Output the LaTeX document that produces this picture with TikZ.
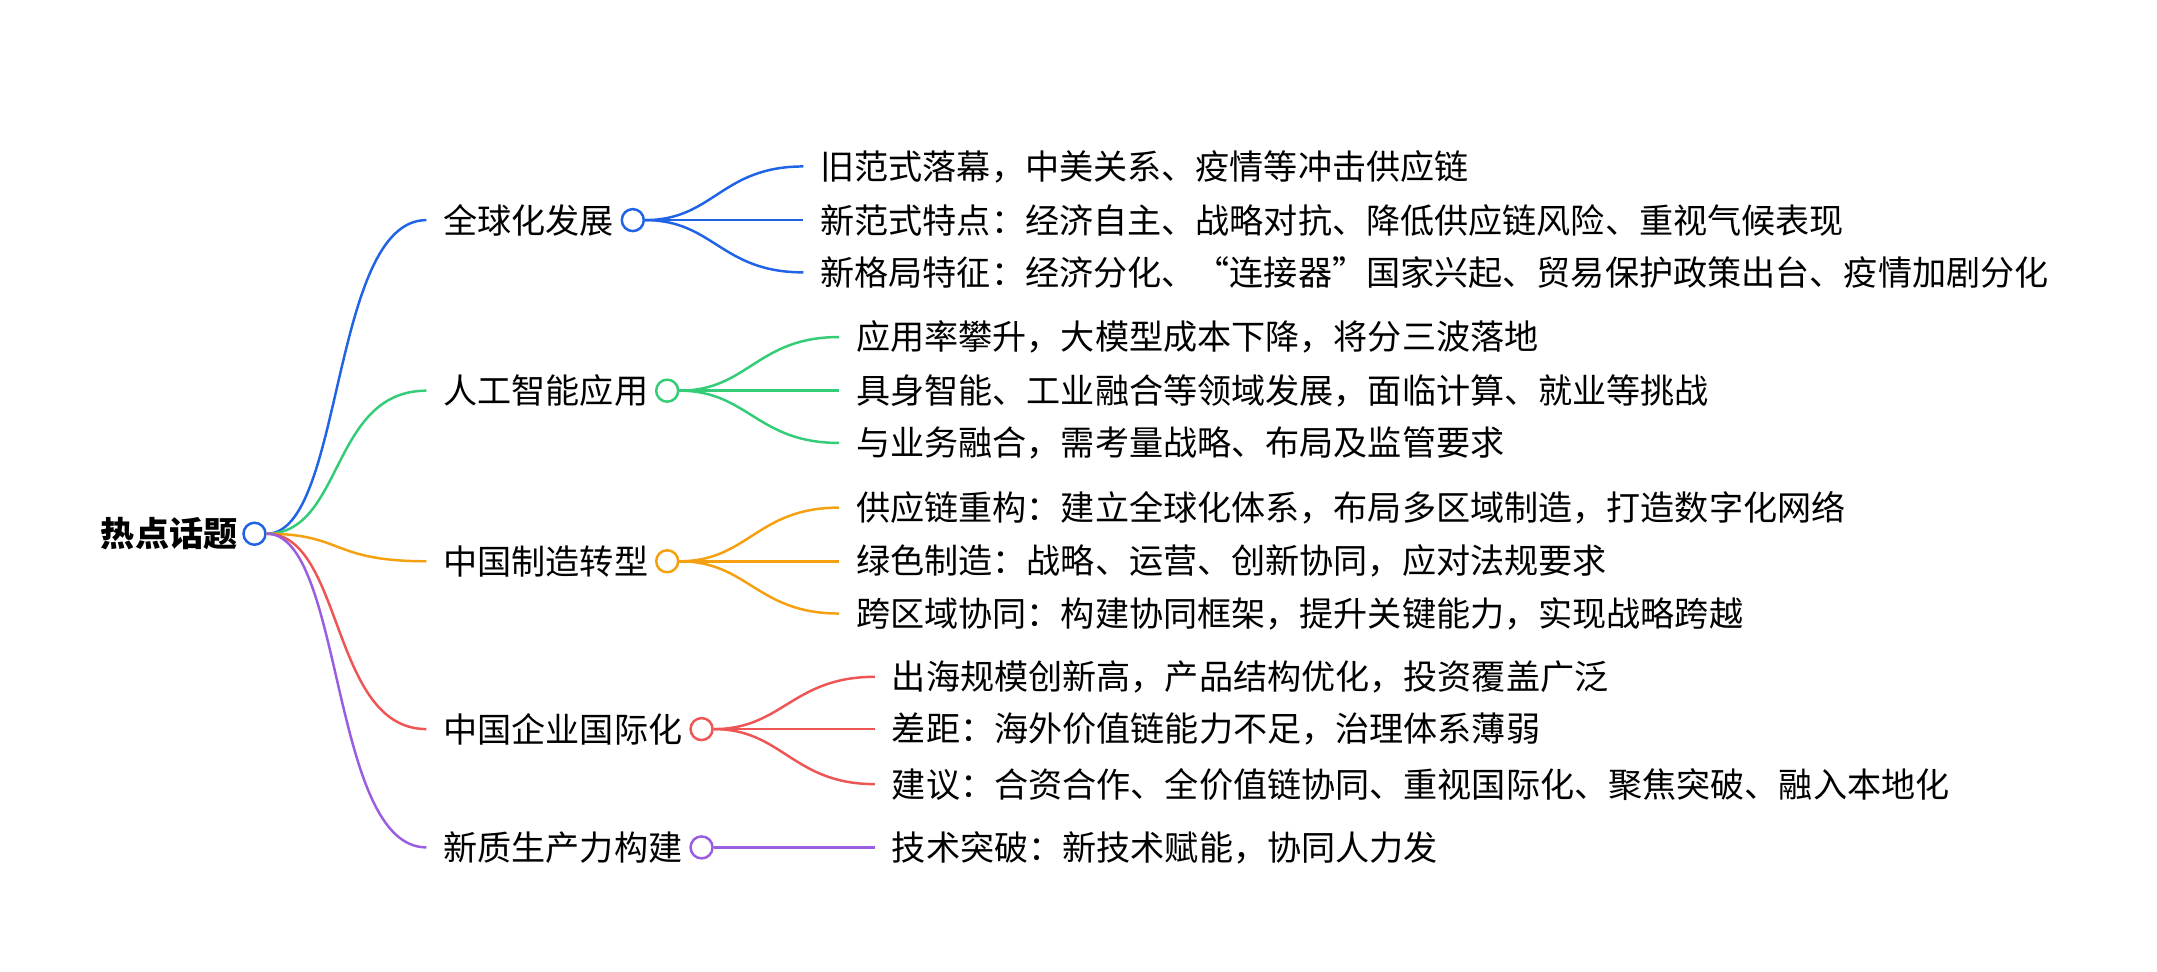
\documentclass[tikz,border=0pt]{standalone}
\usepackage{fontspec}
\setmainfont{Noto Sans CJK SC}
\usetikzlibrary{calc}
\begin{document}
\begin{tikzpicture}[x=0.5pt,y=-0.5pt,
  lbl/.style={anchor=west,inner sep=0pt,font=\fontsize{12.4pt}{14pt}\selectfont},
  dot/.style={circle,draw=#1,line width=0.9pt,fill=white,minimum size=8pt,inner sep=0pt},
  ln/.style={draw=#1,line width=0.9pt}]
\useasboundingbox (0,0) rectangle (1568,706);
\definecolor{cb}{HTML}{1F63E6}
\definecolor{cg}{HTML}{33CC77}
\definecolor{co}{HTML}{F5A00F}
\definecolor{cr}{HTML}{EE5555}
\definecolor{cp}{HTML}{9B5DE0}
\node[lbl,font=\fontsize{12.4pt}{14pt}\selectfont\bfseries] (root) at (73,388) {热点话题};
\node[dot=cb] (rc) at (185,388) {};
\newcommand{\br}[6]{%
  \node[lbl] (#1) at (#3,#4) {#6};
  \coordinate (#1s) at (#3-12,#4);
  \draw[ln=#2] (rc.east) .. controls (250,388) and (240,#4) .. (#1s);
  \node[dot=#2] (#1c) at (#5,#4) {};
}
\newcommand{\ch}[6]{%
  \node[lbl] (#3) at (#5,#4) {#6};
  \coordinate (#3e) at (#5-12,#4);
  \draw[ln=#2] (#1c.east) .. controls ($(#1c.east)+(50,0)$) and ($(#3e)+(-60,0)$) .. (#3e);
}
\br{a}{cb}{322}{160}{460}{全球化发展}
\br{b}{cg}{322}{284}{485}{人工智能应用}
\br{c}{co}{322}{408}{485}{中国制造转型}
\br{d}{cr}{322}{530}{510}{中国企业国际化}
\br{e}{cp}{322}{616}{510}{新质生产力构建}
\ch{a}{cb}{a1}{121}{596}{旧范式落幕，中美关系、疫情等冲击供应链}
\ch{a}{cb}{a2}{160}{596}{新范式特点：经济自主、战略对抗、降低供应链风险、重视气候表现}
\ch{a}{cb}{a3}{198}{596}{新格局特征：经济分化、“连接器”国家兴起、贸易保护政策出台、疫情加剧分化}
\ch{b}{cg}{b1}{245}{622}{应用率攀升，大模型成本下降，将分三波落地}
\ch{b}{cg}{b2}{284}{622}{具身智能、工业融合等领域发展，面临计算、就业等挑战}
\ch{b}{cg}{b3}{322}{622}{与业务融合，需考量战略、布局及监管要求}
\ch{c}{co}{c1}{369}{622}{供应链重构：建立全球化体系，布局多区域制造，打造数字化网络}
\ch{c}{co}{c2}{408}{622}{绿色制造：战略、运营、创新协同，应对法规要求}
\ch{c}{co}{c3}{446}{622}{跨区域协同：构建协同框架，提升关键能力，实现战略跨越}
\ch{d}{cr}{d1}{492}{648}{出海规模创新高，产品结构优化，投资覆盖广泛}
\ch{d}{cr}{d2}{530}{648}{差距：海外价值链能力不足，治理体系薄弱}
\ch{d}{cr}{d3}{570}{648}{建议：合资合作、全价值链协同、重视国际化、聚焦突破、融入本地化}
\ch{e}{cp}{e1}{616}{648}{技术突破：新技术赋能，协同人力发}
\end{tikzpicture}
\end{document}
